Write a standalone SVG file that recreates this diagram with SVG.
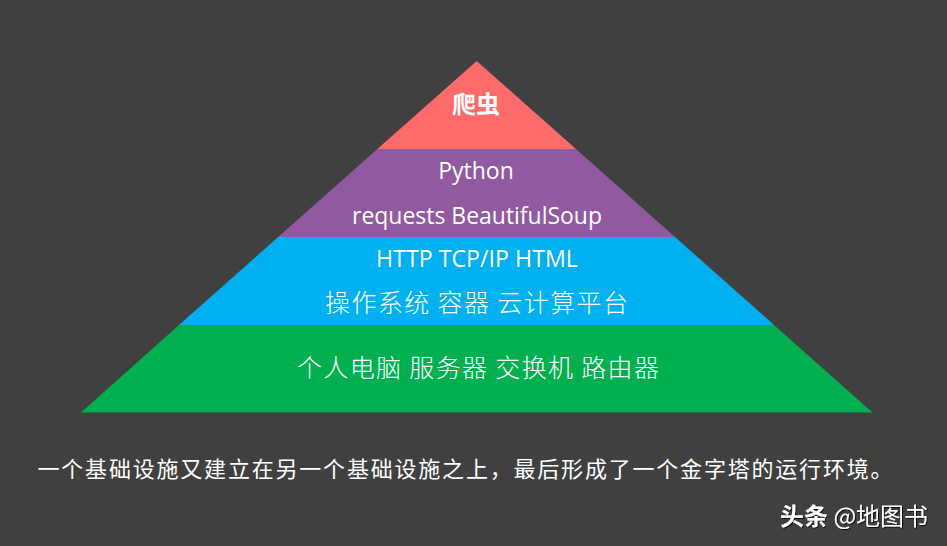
<svg xmlns="http://www.w3.org/2000/svg" width="947" height="546" viewBox="0 0 947 546">
<style>
.lat{font-family:"Open Sans","Liberation Sans",sans-serif;fill:#fff;text-anchor:middle}
.cjk{font-family:"Noto Sans CJK SC",sans-serif;fill:#fff;text-anchor:middle}
.thin{font-weight:300}
</style>
<defs>
<filter id="sh" x="-10%" y="-30%" width="130%" height="160%"><feDropShadow dx="1" dy="1" stdDeviation="0.6" flood-color="#000" flood-opacity="0.8"/></filter>
</defs>
<rect width="947" height="546" fill="#404040"/>
<g id="layer-top">
<polygon points="476.7,61 377.4,149 576,149" fill="#FF6B6B"/>
<text class="cjk" x="476" y="113" font-size="24" font-weight="bold">爬虫</text>
</g>
<g id="layer-2">
<polygon points="377.4,149 576,149 675,237 278.2,237" fill="#9159A0"/>
<text class="lat" x="476" y="179" font-size="23">Python</text>
<text class="lat" x="477" y="224" font-size="23" textLength="250" lengthAdjust="spacingAndGlyphs">requests BeautifulSoup</text>
</g>
<g id="layer-3">
<polygon points="278.2,237 675,237 774,325 179,325" fill="#00B0F0"/>
<text class="lat" x="477" y="267" font-size="23" textLength="202" lengthAdjust="spacingAndGlyphs">HTTP TCP/IP HTML</text>
<text class="cjk thin" x="476.5" y="312" font-size="25" textLength="303" lengthAdjust="spacing">操作系统 容器 云计算平台</text>
</g>
<g id="layer-base">
<polygon points="179,325 774,325 872.5,412.5 81,412.5" fill="#00B050"/>
<text class="cjk thin" x="478" y="377" font-size="25" textLength="362" lengthAdjust="spacing">个人电脑 服务器 交换机 路由器</text>
</g>
<g id="connectors"></g>
<text class="cjk" x="465" y="477" font-size="22" textLength="855" lengthAdjust="spacing">一个基础设施又建立在另一个基础设施之上，最后形成了一个金字塔的运行环境。</text>
<text font-family="Noto Sans CJK SC, sans-serif" fill="#fff" x="780" y="525" font-size="24" filter="url(#sh)"><tspan font-weight="bold">头条</tspan> @地图书</text>
</svg>
